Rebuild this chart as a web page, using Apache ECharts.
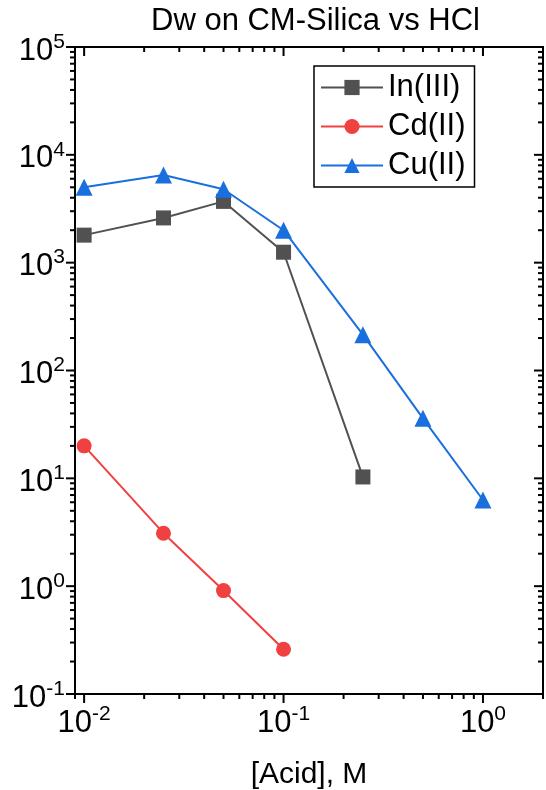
<!DOCTYPE html>
<html>
<head>
<meta charset="utf-8">
<script src="https://cdn.jsdelivr.net/npm/echarts@6/dist/echarts.min.js"></script>
<style>
  html, body { margin: 0; padding: 0; background: #fff; }
  #chart { width: 546px; height: 790px; }
</style>
</head>
<body>
<div id="chart"></div>
<script>
// Distribution coefficients (Dw) on CM-Silica versus HCl concentration
const inAcid = [0.01, 0.025, 0.05, 0.1, 0.25];
const inDw   = [1800, 2600, 3700, 1250, 10.3];
const cdAcid = [0.01, 0.025, 0.05, 0.1];
const cdDw   = [20, 3.1, 0.91, 0.26];
const cuAcid = [0.01, 0.025, 0.05, 0.1, 0.25, 0.5, 1.0];
const cuDw   = [5000, 6500, 4800, 2000, 215, 36, 6.3];

// Axis decades (labelled ticks)
const xDecades = [0.01, 0.1, 1];
const yDecades = [0.1, 1, 10, 100, 1000, 10000, 100000];
const xRange = [0.009, 2];
const yRange = [0.1, 100000];

const FONT = '"Liberation Sans", Arial, sans-serif';
const COLORS = { in: '#515151', cd: '#F14040', cu: '#1A6FDF' };

function pairs(xs, ys) { return xs.map((x, i) => [x, ys[i]]); }

// Label as 10 with superscript exponent; blank for non-decade values
function powLabel(v) {
  const e = Math.round(Math.log10(v));
  if (Math.abs(v / Math.pow(10, e) - 1) > 1e-6) return '';
  return '{b|10}{s|' + e + '}';
}
const richPow = {
  b: { fontSize: 31, fontFamily: FONT, color: '#000', lineHeight: 39 },
  s: { fontSize: 21, fontFamily: FONT, color: '#000', lineHeight: 21, verticalAlign: 'top' }
};

// Tick list: decades are major, 2..9 multiples are minor
function tickList(decades, range) {
  const out = [];
  decades.forEach(d => {
    out.push([d, 1]);
    for (let m = 2; m <= 9; m++) out.push([d * m, 0]);
  });
  out.push([decades[0] / 10 * 9, 0]);
  return out.filter(t => t[0] >= range[0] * 0.9999 && t[0] <= range[1] * 1.0001);
}
const xTicks = tickList(xDecades, xRange);
const yTicks = tickList(yDecades, yRange);

// Tick marks: outward on bottom/left, inward on top/right
const tickData = xTicks.map(t => [t[0], 1, t[1], 0])
  .concat(yTicks.map(t => [1, t[0], t[1], 1]));

function renderTick(params, api) {
  const cs = params.coordSys;
  const isY = api.value(3) === 1;
  const len = api.value(2) === 1 ? 9 : 5;
  const style = { stroke: '#000', lineWidth: 2 };
  if (!isY) {
    const x = api.coord([api.value(0), 1])[0];
    const bottom = cs.y + cs.height, top = cs.y;
    return { type: 'group', children: [
      { type: 'line', shape: { x1: x, y1: bottom, x2: x, y2: bottom + len }, style },
      { type: 'line', shape: { x1: x, y1: top, x2: x, y2: top + len }, style }
    ]};
  }
  const y = api.coord([1, api.value(1)])[1];
  const left = cs.x, right = cs.x + cs.width;
  return { type: 'group', children: [
    { type: 'line', shape: { x1: left, y1: y, x2: left - len, y2: y }, style },
    { type: 'line', shape: { x1: right, y1: y, x2: right - len, y2: y }, style }
  ]};
}

const chart = echarts.init(document.getElementById('chart'), null, { renderer: 'canvas' });

chart.setOption({
  animation: false,
  backgroundColor: '#fff',
  title: {
    text: 'Dw on CM-Silica vs HCl',
    left: 146, top: 1,
    textStyle: { fontFamily: FONT, fontSize: 31, fontWeight: 'normal', color: '#000' }
  },
  legend: {
    orient: 'vertical',
    left: 314, top: 66,
    data: ['In(III)', 'Cd(II)', 'Cu(II)'],
    itemWidth: 62, itemHeight: 19, itemGap: 8,
    padding: [6, 9, 6, 6],
    borderColor: '#000', borderWidth: 1.5,
    textStyle: { fontFamily: FONT, fontSize: 31, color: '#000' }
  },
  grid: {
    left: 75, right: 3, top: 47, bottom: 96,
    outerBoundsMode: 'none',
    show: true, borderColor: '#000', borderWidth: 2, backgroundColor: 'transparent'
  },
  xAxis: {
    type: 'log', logBase: 10,
    min: xRange[0], max: xRange[1],
    splitNumber: 10,
    name: '[Acid], M', nameLocation: 'middle', nameGap: 66,
    nameTextStyle: { fontFamily: FONT, fontSize: 30, color: '#000' },
    axisLine: { show: false },
    axisTick: { show: false },
    splitLine: { show: false },
    axisLabel: { margin: 10, formatter: powLabel, rich: richPow, showMinLabel: true, showMaxLabel: true }
  },
  yAxis: {
    type: 'log', logBase: 10,
    min: yRange[0], max: yRange[1],
    interval: 1,
    axisLine: { show: false },
    axisTick: { show: false },
    splitLine: { show: false },
    axisLabel: { margin: 10, padding: [8, 0, 0, 0], formatter: powLabel, rich: richPow }
  },
  series: [
    {
      type: 'custom', name: 'ticks', silent: true, clip: false, z: 5,
      renderItem: renderTick, data: tickData
    },
    {
      name: 'In(III)', type: 'line', data: pairs(inAcid, inDw),
      symbol: 'rect', symbolSize: 15,
      lineStyle: { color: COLORS.in, width: 2 },
      itemStyle: { color: COLORS.in }, z: 3
    },
    {
      name: 'Cd(II)', type: 'line', data: pairs(cdAcid, cdDw),
      symbol: 'circle', symbolSize: 15,
      lineStyle: { color: COLORS.cd, width: 2 },
      itemStyle: { color: COLORS.cd }, z: 3
    },
    {
      name: 'Cu(II)', type: 'line', data: pairs(cuAcid, cuDw),
      symbol: 'triangle', symbolSize: 17,
      lineStyle: { color: COLORS.cu, width: 2 },
      itemStyle: { color: COLORS.cu }, z: 3
    }
  ]
});
</script>
</body>
</html>
